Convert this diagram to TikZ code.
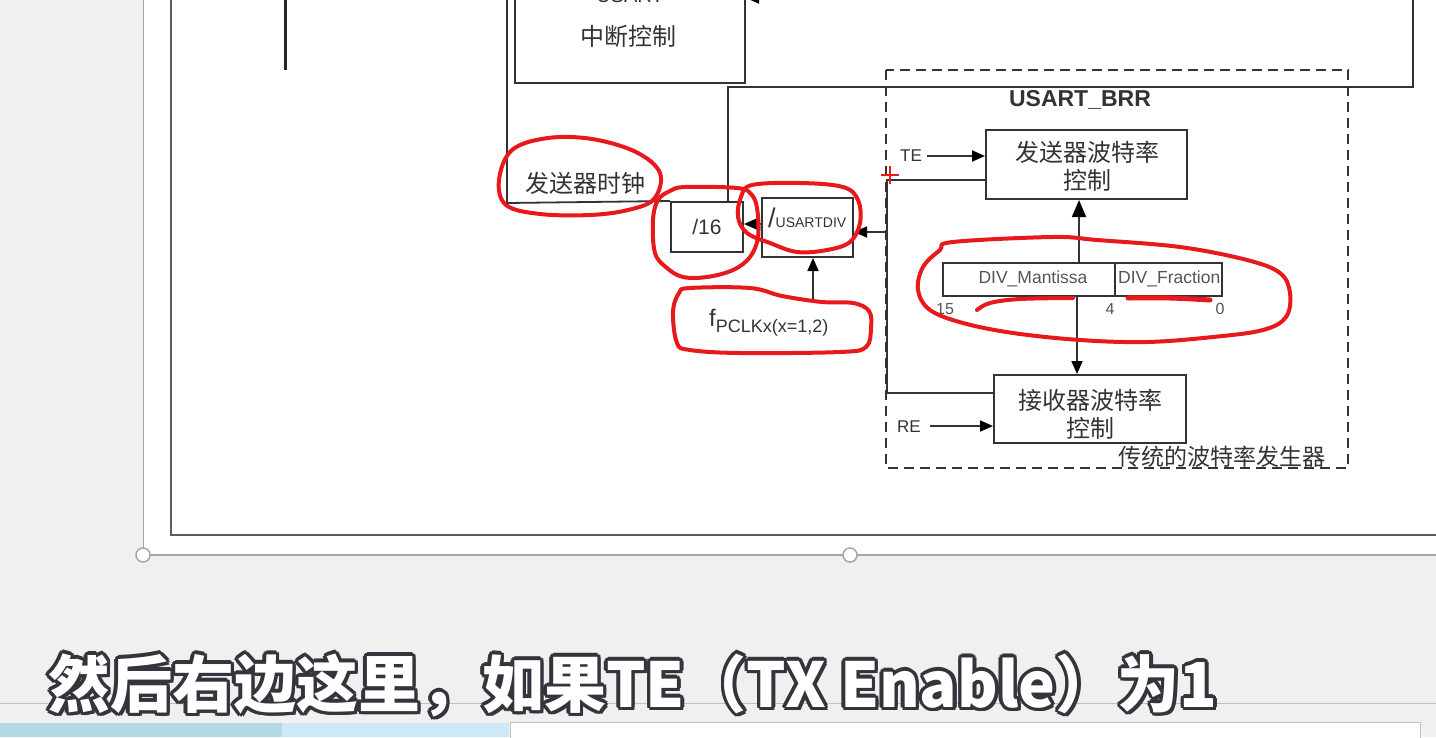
\documentclass[tikz,border=0pt]{standalone}
\usepackage{fontspec}
\setmainfont{Liberation Sans}
\newfontfamily\cjk{Noto Sans CJK SC}
\usetikzlibrary{arrows.meta}
\definecolor{linec}{HTML}{333333}
\definecolor{txtc}{HTML}{333333}
\definecolor{numc}{HTML}{555555}
\definecolor{penred}{HTML}{E8191C}
\definecolor{bggray}{HTML}{F0F0F0}
\definecolor{selgray}{HTML}{A5A5A5}
\definecolor{blueA}{HTML}{B3D8E6}
\definecolor{blueB}{HTML}{CBEAF5}
\definecolor{outl}{HTML}{34343C}
\newcommand\fsz[2]{\fontsize{#1}{#2}\selectfont}
\begin{document}
\begin{tikzpicture}[x=1pt,y=-1pt,
 box/.style={draw=linec,line width=2pt,inner sep=0pt},
 conn/.style={draw=linec,line width=1.8pt},
 arr/.style={conn,-{Triangle[length=13pt,width=11pt,color=black]}},
 lbl/.style={inner sep=0pt,text=txtc},
 cjkt/.style={lbl,font=\cjk\fsz{24}{28},align=center},
 redpen/.style={draw=penred,line width=4pt,line cap=round,line join=round},
 subt/.style={inner sep=0pt,font=\cjk\bfseries\fsz{62}{62},anchor=west}]
\useasboundingbox (0,0) rectangle (1436,737);
\clip (0,0) rectangle (1436,737);
% backgrounds
\fill[bggray] (0,0) rectangle (1436,737);
\fill[white] (143,0) rectangle (1436,555);
\draw[selgray,line width=1pt] (143,0) -- (143,555);
\draw[selgray,line width=1.5pt] (143,555) -- (1436,555);
\draw[linec!80,line width=2pt] (171,0) -- (171,535) -- (1436,535);
\draw[selgray!70,line width=1pt] (0,703) -- (1436,703);
\fill[blueA] (0,723) rectangle (282,737);
\fill[blueB] (282,723) rectangle (509,737);
\draw[selgray!70,fill=white,line width=1pt] (510,722) rectangle (1420,740);
\node[circle,draw=selgray,fill=white,line width=1.5pt,minimum size=14pt,inner sep=0pt] (h1) at (143,555) {};
\node[circle,draw=selgray,fill=white,line width=1.5pt,minimum size=14pt,inner sep=0pt] (h2) at (850,555) {};

% left black line
\draw[black!85,line width=3pt] (285,-5) -- (285,70);

% USART interrupt box
\node[box,minimum width=230pt,minimum height=143pt] (usartint) at (630,11.5) {};
\node[lbl,font=\fsz{20}{20}] (usartl) at (630,-4) {USART};
\node[cjkt] (usartintt) at (628,36) {中断控制};
\coordinate (topa) at (900,-2);
\draw[arr] (topa) -- (usartint.east |- topa);

% boxes
\node[box,minimum width=72pt,minimum height=50pt,font=\fsz{21}{21},text=txtc] (div16) at (707,227) {/16};
\node[box,minimum width=91pt,minimum height=59pt] (udiv) at (807.5,227.5) {};
\node[lbl,anchor=base west] (udivt) at (768,227) {\fsz{27}{27}/\fsz{14}{14}USARTDIV};
\node[cjkt] (txclk) at (585,183) {发送器时钟};

% connectors on left
\coordinate (la) at (507,-10);
\coordinate (lb) at (507,203);
\draw[conn] (la) -- (lb) -- (div16.north west);
\coordinate (ra) at (1413,-10);
\coordinate (rb) at (1413,87);
\coordinate (rc) at (728,87);
\draw[conn] (ra) -- (rb) -- (rc) -- (rc |- div16.north);
\coordinate (ya) at (0,224);
\draw[arr] (udiv.west |- ya) -- (div16.east |- ya);

% fPCLK
\node[lbl,anchor=base west] (fp) at (709,326) {\fsz{24}{24}f\raisebox{-6pt}{\fsz{18}{18}PCLKx(x=1,2)}};
\coordinate (fpt) at (813,303);
\draw[arr] (fpt) -- (udiv.south -| fpt);

% dashed baud rate generator
\draw[linec,line width=2pt,dash pattern=on 10pt off 6pt] (886,70) rectangle (1348,468);
\node[lbl,font=\bfseries\fsz{23}{23}] (brr) at (1080,100) {USART\_BRR};
\node[cjkt,font=\cjk\fsz{23}{23}] (trad) at (1222,457) {传统的波特率发生器};

\node[box,minimum width=201pt,minimum height=69pt] (txbr) at (1086.5,164.5) {};
\node[cjkt] (txbrt) at (1087,166) {发送器波特率\\控制};
\node[box,minimum width=192pt,minimum height=68pt] (rxbr) at (1090,409) {};
\node[cjkt] (rxbrt) at (1090,414) {接收器波特率\\控制};

\node[box,minimum width=172pt,minimum height=33pt] (mant) at (1029,279.5) {};
\node[box,minimum width=107pt,minimum height=33pt] (frac) at (1168.5,279.5) {};
\node[lbl,font=\fsz{17.5}{18},text=numc] (mantt) at (1033,279) {DIV\_Mantissa};
\begin{scope}
\clip (1116,264) rectangle (1221,295);
\node[lbl,font=\fsz{17.5}{18},text=numc,anchor=west] (fract) at (1118,279) {DIV\_Fraction};
\end{scope}
\node[lbl,font=\fsz{16}{16},text=numc] (n15) at (945,309) {15};
\node[lbl,font=\fsz{16}{16},text=numc] (n4) at (1110,309) {4};
\node[lbl,font=\fsz{16}{16},text=numc] (n0) at (1220,309) {0};

\node[lbl,font=\fsz{17}{17}] (te) at (911,156) {TE};
\node[lbl,font=\fsz{17}{17}] (re) at (909,427) {RE};
\draw[arr] ([xshift=5pt]te.east) -- (te.east -| txbr.west);
\coordinate (rey) at (0,426);
\draw[arr] ([xshift=9pt]re.east |- rey) -- (rxbr.west |- rey);

\coordinate (j1) at (887,180);
\coordinate (j2) at (887,393);
\coordinate (j3) at (887,232);
\draw[conn] (txbr.west |- j1) -- (j1) -- (j2) -- (rxbr.west |- j2);
\draw[arr] (j3) -- (udiv.east |- j3);

\coordinate (cu) at (1079,0);
\coordinate (cd) at (1077,0);
\draw[conn,-{Triangle[length=17pt,width=14pt,color=black]}] (mant.north -| cu) -- (txbr.south -| cu);
\draw[arr] (mant.south -| cd) -- (rxbr.north -| cd);

% red pen annotations
\draw[redpen] plot[smooth cycle,tension=0.6] coordinates {(512,150) (548,138) (592,139) (636,152) (660,173) (654,199) (628,210) (590,215) (540,214) (506,205) (499,180)};
\draw[redpen] plot[smooth cycle,tension=0.6] coordinates {(737,188) (751,194) (757,208) (758,237) (750,257) (733,270) (707,277) (683,277) (667,268) (655,253) (653,220) (658,200) (670,191) (685,187)};
\draw[redpen] plot[smooth cycle,tension=0.6] coordinates {(752,185) (800,183) (843,187) (858,200) (860,223) (850,242) (827,250) (797,252) (770,243) (747,233) (738,217) (741,197)};
\draw[redpen] plot[smooth cycle,tension=0.6] coordinates {(690,288) (750,288) (782,296) (822,302) (853,303) (869,311) (871,328) (866,347) (840,352) (740,353) (690,350) (677,343) (673,312) (679,293)};
\draw[redpen] plot[smooth cycle,tension=0.6] coordinates {(953,242) (1053,237) (1097,240) (1180,247) (1247,260) (1280,273) (1290,293) (1286,317) (1263,330) (1213,337) (1147,342) (1080,340) (1013,333) (963,323) (930,310) (918,290) (923,267) (940,250)};
\draw[redpen] plot[smooth,tension=0.6] coordinates {(977,310) (990,303) (1020,299) (1073,298)};
\draw[redpen,line width=5pt] plot[smooth,tension=0.6] coordinates {(1128,298) (1170,298) (1210,300)};
\draw[penred,line width=2pt] (881,175) -- (899,175) (890,166) -- (890,184);

% subtitle with outline
\foreach \a [count=\i] in {0,30,...,330}
  \node[subt,text=outl] (subo\i) at ({48+3.5*cos(\a)},{685+3.5*sin(\a)}) {然后右边这里，如果TE（TX Enable）为1};
\node[subt,text=outl] (subs) at (51,688) {然后右边这里，如果TE（TX Enable）为1};
\node[subt,text=white] (sub) at (48,685) {然后右边这里，如果TE（TX Enable）为1};
\end{tikzpicture}
\end{document}
